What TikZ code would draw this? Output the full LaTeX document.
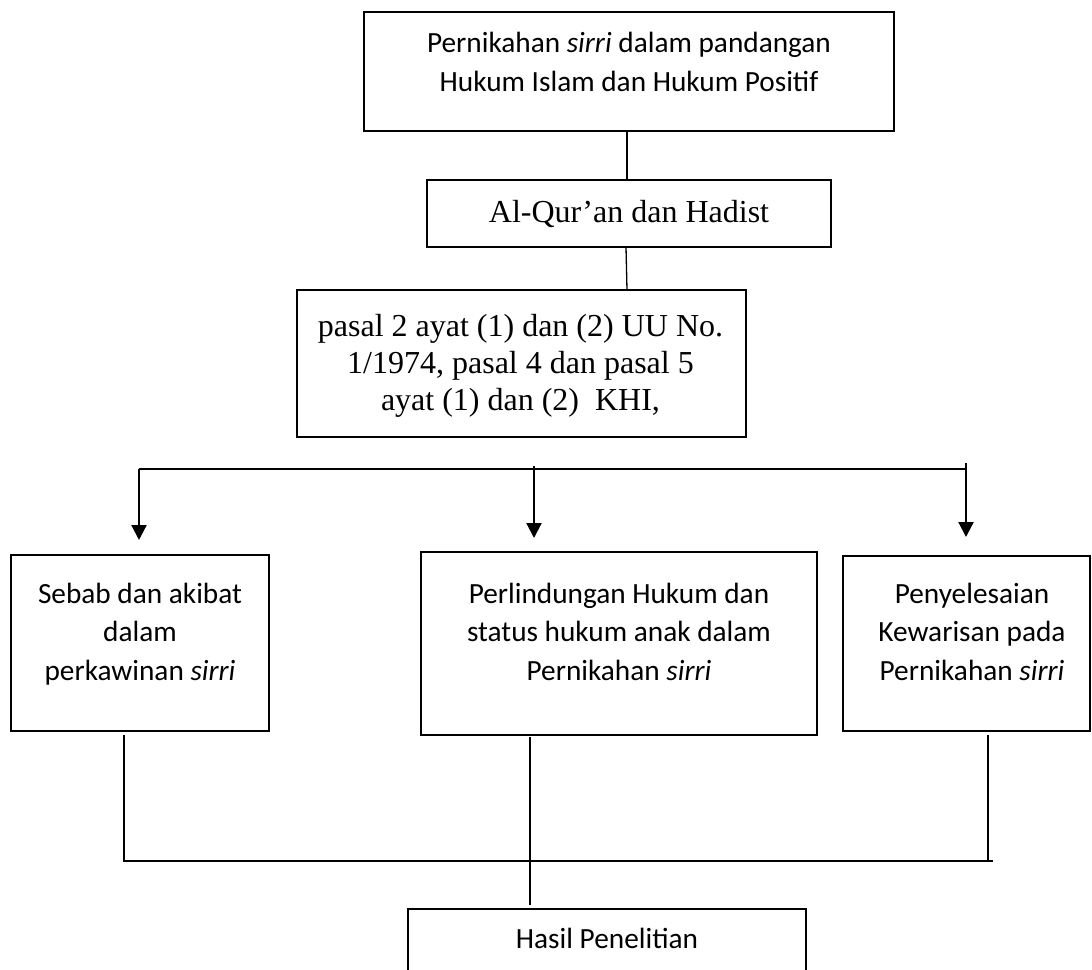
\documentclass[tikz,border=0pt]{standalone}
\usepackage{fontspec}
\setmainfont{Carlito}
\newfontfamily\timesfont{Liberation Serif}
\usetikzlibrary{arrows.meta}
\tikzset{
  box/.style={draw, line width=2.8pt, inner sep=0pt, outer sep=0pt},
  caltext/.style={font=\fontsize{29.3}{38.4}\selectfont, align=center, inner sep=0pt, anchor=north},
  tmstext/.style={font=\timesfont\fontsize{32}{36.7}\selectfont, align=center, inner sep=0pt, anchor=north},
  link/.style={line width=1.3pt},
  arr/.style={line width=2.2pt, -{Triangle[length=15pt,width=15pt]}},
}
\newcommand{\fstrut}{\rule{0pt}{24pt}}
\begin{document}
\begin{tikzpicture}[x=1pt,y=-1pt]
\useasboundingbox (0,0) rectangle (1092,969);
\clip (0,0) rectangle (1092,969);
% boxes
\node[box, minimum width=530pt, minimum height=119pt] (top) at (629,71.5) {};
\node[box, minimum width=404pt, minimum height=67pt] (quran) at (629,213.5) {};
\node[box, minimum width=449pt, minimum height=147pt] (pasal) at (521.5,363.5) {};
\node[box, minimum width=258pt, minimum height=176pt] (left) at (140,643) {};
\node[box, minimum width=396pt, minimum height=183pt] (mid) at (619,643.5) {};
\node[box, minimum width=247pt, minimum height=175pt] (right) at (966.5,643.5) {};
\node[box, minimum width=398pt, minimum height=91pt] (hasil) at (607,954.5) {};
% texts
\node[caltext] (ttop) at (629,28.5) {\fstrut Pernikahan \textit{sirri} dalam pandangan\\Hukum Islam dan Hukum Positif};
\node[tmstext] (tquran) at (629,198) {\fstrut Al-Qur’an dan Hadist};
\node[tmstext] (tpasal) at (520.5,312.7) {\fstrut pasal 2 ayat (1) dan (2) UU No.\\1/1974, pasal 4 dan pasal 5\\ayat (1) dan (2)\ \ KHI,};
\node[caltext] (tleft) at (140,579) {\fstrut Sebab dan akibat\\dalam\\perkawinan \textit{sirri}};
\node[caltext] (tmid) at (619,579) {\fstrut Perlindungan Hukum dan\\status hukum anak dalam\\Pernikahan \textit{sirri}};
\node[caltext] (tright) at (972,579) {\fstrut Penyelesaian\\Kewarisan pada\\Pernikahan \textit{sirri}};
\node[caltext] (thasil) at (607,924) {\fstrut Hasil Penelitian};
% upper connectors
\draw[link] ([xshift=-2pt]top.south) -- ([xshift=-2pt]quran.north);
\draw[link] ([xshift=-3pt]quran.south) -- ([xshift=-2pt]quran.south |- pasal.north);
% distribution bus
\coordinate (busL) at (139,469);
\coordinate (busR) at (966,469);
\coordinate (midS) at (534,466);
\coordinate (rightS) at (966,463);
\coordinate (tipL) at (139,540);
\coordinate (tipM) at (534,538);
\coordinate (tipR) at (966,537);
\draw[link] (busL) -- (busR);
\draw[arr] (busL) -- (tipL);
\draw[arr] (midS) -- (tipM);
\draw[arr] (rightS) -- (tipR);
% collecting bus
\coordinate (jL) at (124,861);
\coordinate (jR) at (988,861);
\coordinate (jEnd) at (993,861);
\coordinate (jM) at (530,861);
\draw[link] ([xshift=-16pt,yshift=-4pt]left.south) -- (jL) -- (jEnd);
\draw[link] ([xshift=21.5pt,yshift=-4pt]right.south) -- (jR);
\draw[link] ([xshift=-89pt,yshift=-2pt]mid.south) -- (jM) -- ([yshift=4pt]jM |- hasil.north);
\end{tikzpicture}
\end{document}
